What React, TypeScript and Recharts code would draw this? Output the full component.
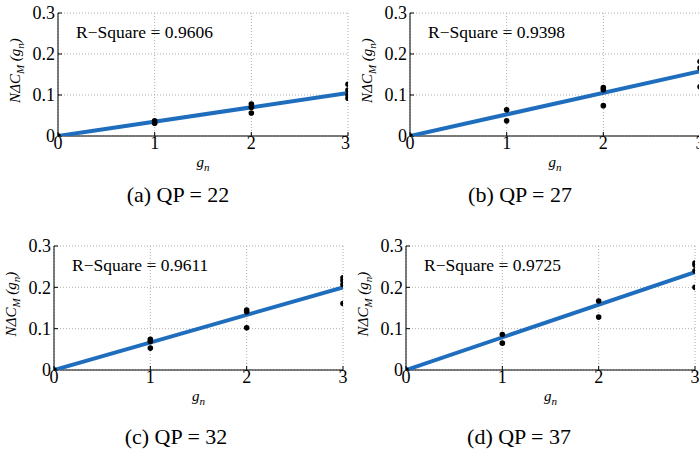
import React from 'react';
import { ScatterChart, Scatter, XAxis, YAxis, CartesianGrid } from 'recharts';

// ---- data ----
const gTicks = [0, 1, 2, 3];
const vTicks = [0, 0.1, 0.2, 0.3];

const qp22_g = [0, 1, 1, 2, 2, 2, 3, 3, 3, 3];
const qp22_v = [0, 0.037, 0.031, 0.078, 0.07, 0.056, 0.126, 0.112, 0.1, 0.092];
const qp22_fit = [0, 0.105];
const qp22_r2 = '0.9606';

const qp27_g = [0, 1, 1, 2, 2, 2, 3, 3, 3];
const qp27_v = [0, 0.064, 0.037, 0.118, 0.113, 0.074, 0.182, 0.166, 0.12];
const qp27_fit = [0, 0.158];
const qp27_r2 = '0.9398';

const qp32_g = [0, 1, 1, 1, 2, 2, 2, 3, 3, 3, 3];
const qp32_v = [0, 0.074, 0.069, 0.053, 0.145, 0.141, 0.102, 0.223, 0.216, 0.207, 0.161];
const qp32_fit = [0, 0.2];
const qp32_r2 = '0.9611';

const qp37_g = [0, 1, 1, 2, 2, 3, 3, 3, 3];
const qp37_v = [0, 0.086, 0.065, 0.167, 0.128, 0.259, 0.254, 0.24, 0.2];
const qp37_fit = [0, 0.237];
const qp37_r2 = '0.9725';

const fitG = [0, 3];

const FONT = '"Liberation Serif", "Times New Roman", serif';
const BLUE = '#1f6ebe';

type PanelProps = {
  left: number; top: number; width: number; height: number;
  plotL: number; plotR: number; plotT: number; plotB: number;
  g: number[]; v: number[]; fit: number[]; r2: string;
  caption: string; capX: number; capY: number;
};

const Dot = (p: any) => <circle cx={p.cx} cy={p.cy} r={2.8} fill="#000" />;
const NoShape = () => <g />;

function Panel(p: PanelProps) {
  const pts = p.g.map((g, i) => ({ g, v: p.v[i] }));
  const fitPts = fitG.map((g, i) => ({ g, v: p.fit[i] }));
  const yAxisW = 40;
  const xAxisH = 24;
  const margin = {
    left: p.plotL - p.left - yAxisW,
    right: p.left + p.width - p.plotR,
    top: p.plotT - p.top,
    bottom: p.top + p.height - p.plotB - xAxisH,
  };
  const tickStyle = { fontFamily: FONT, fontSize: 18, fill: '#000' };
  const cx = (p.plotL + p.plotR) / 2;
  const cy = (p.plotT + p.plotB) / 2;
  return (
    <>
      <div style={{ position: 'absolute', left: p.left, top: p.top }}>
        <ScatterChart width={p.width} height={p.height} margin={margin}>
          <CartesianGrid stroke="#9a9a9a" strokeDasharray="1 2" strokeWidth={0.8} />
          <XAxis dataKey="g" type="number" domain={[0, 3]} ticks={gTicks} allowDataOverflow
            height={xAxisH} tickSize={-4} tickMargin={4} stroke="#000" tick={tickStyle}
            axisLine={{ stroke: '#000' }} tickLine={{ stroke: '#000' }} />
          <XAxis xAxisId="top" orientation="top" dataKey="g" type="number" domain={[0, 3]} ticks={gTicks}
            allowDataOverflow height={0} tickSize={-4} tick={false} stroke="#000" />
          <YAxis dataKey="v" type="number" domain={[0, 0.3]} ticks={vTicks} allowDataOverflow
            width={yAxisW} tickSize={-4} tickMargin={7} stroke="#000" tick={tickStyle} />
          <YAxis yAxisId="right" orientation="right" dataKey="v" type="number" domain={[0, 0.3]} ticks={vTicks}
            allowDataOverflow width={0} tickSize={-4} tick={false} stroke="#000" />
          <Scatter xAxisId="top" yAxisId="right" data={fitPts} shape={NoShape} isAnimationActive={false} />
          <Scatter data={fitPts} shape={NoShape} line={{ stroke: BLUE, strokeWidth: 4 }} lineType="joint"
            isAnimationActive={false} />
          <Scatter data={pts} shape={Dot} isAnimationActive={false} />
        </ScatterChart>
      </div>
      <svg style={{ position: 'absolute', left: 0, top: 0, overflow: 'visible', pointerEvents: 'none' }}
        width={699} height={454}>
        <text x={p.plotL + 18} y={p.plotT + 25} fontFamily={FONT} fontSize={17.5} fill="#000">
          {'R\u2212Square = ' + p.r2}
        </text>
        <text x={cx} y={p.plotB + 31} fontFamily={FONT} fontSize={15} fontStyle="italic"
          textAnchor="middle" fill="#000">
          g<tspan fontSize={11} dy={4}>n</tspan>
        </text>
        <text transform={`translate(${p.plotL - 38},${cy - 4}) rotate(-90)`} fontFamily={FONT} fontSize={15}
          fontStyle="italic" textAnchor="middle" fill="#000">
          N{'\u0394'}C<tspan fontSize={11} dy={4}>M</tspan><tspan dy={-4}> (g</tspan>
          <tspan fontSize={11} dy={4}>n</tspan><tspan dy={-4}>)</tspan>
        </text>
        <text x={p.capX} y={p.capY} fontFamily={FONT} fontSize={22} textAnchor="middle" fill="#000">
          {p.caption}
        </text>
      </svg>
    </>
  );
}

export default function App() {
  return (
    <div style={{ position: 'absolute', left: 0, top: 0, width: 699, height: 454, overflow: 'hidden', background: '#fff' }}>
      <Panel left={0} top={0} width={350} height={180} plotL={58} plotR={348} plotT={13} plotB={136}
        g={qp22_g} v={qp22_v} fit={qp22_fit} r2={qp22_r2} caption="(a) QP = 22" capX={178} capY={202} />
      <Panel left={350} top={0} width={360} height={180} plotL={410} plotR={700} plotT={13} plotB={136}
        g={qp27_g} v={qp27_v} fit={qp27_fit} r2={qp27_r2} caption="(b) QP = 27" capX={520} capY={202} />
      <Panel left={0} top={230} width={350} height={190} plotL={54} plotR={343} plotT={246} plotB={370}
        g={qp32_g} v={qp32_v} fit={qp32_fit} r2={qp32_r2} caption="(c) QP = 32" capX={176} capY={444} />
      <Panel left={350} top={230} width={350} height={190} plotL={406} plotR={695} plotT={246} plotB={370}
        g={qp37_g} v={qp37_v} fit={qp37_fit} r2={qp37_r2} caption="(d) QP = 37" capX={519} capY={444} />
    </div>
  );
}
